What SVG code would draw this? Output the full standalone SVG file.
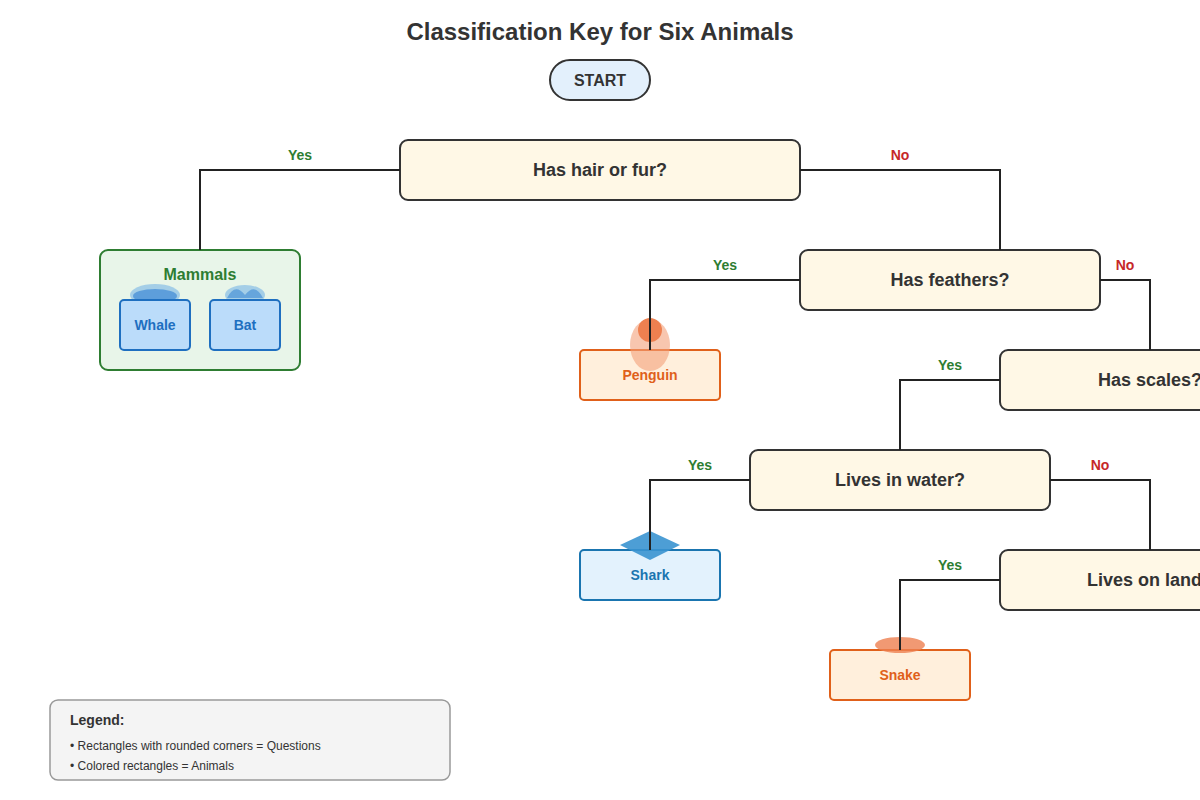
<svg xmlns="http://www.w3.org/2000/svg" width="1200" height="800" viewBox="0 0 1200 800">
<style>
text{font-family:"Liberation Sans",Arial,sans-serif;text-anchor:middle;font-weight:bold}
text.l{text-anchor:start}
text.ln{text-anchor:start;font-weight:normal}
.q rect{fill:#fff8e6;stroke:#333;stroke-width:2}
.q text{font-size:18px;fill:#333}
.c{fill:none;stroke:#222;stroke-width:2}
.y{fill:#2e7d32;font-size:14px}
.n{fill:#c62828;font-size:14px}
.o rect{fill:#ffefdc;stroke:#e0601a;stroke-width:2}
.o text{fill:#e0601a;font-size:14px}
</style>
<rect width="1200" height="800" fill="#fff"/>
<text x="600" y="40" font-size="24" fill="#333">Classification Key for Six Animals</text>
<g id="start"><rect x="550" y="60" width="100" height="40" rx="20" fill="#e3f0fc" stroke="#333" stroke-width="2"/><text x="600" y="86" font-size="16" fill="#333">START</text></g>
<g id="q1" class="q"><rect x="400" y="140" width="400" height="60" rx="8"/><text x="600" y="176">Has hair or fur?</text></g>
<g id="mammals"><rect x="100" y="250" width="200" height="120" rx="8" fill="#e8f5e9" stroke="#2e7d32" stroke-width="2"/><text x="200" y="280" font-size="16" fill="#2e7d32">Mammals</text>
<g id="whale"><ellipse cx="155" cy="295" rx="25" ry="11" fill="#5fa8e6" opacity="0.5"/><ellipse cx="155" cy="296" rx="22" ry="7" fill="#2f7fd4" opacity="0.6"/><rect x="120" y="300" width="70" height="50" rx="4" fill="#bbdcfa" stroke="#1e6fc0" stroke-width="2"/><text x="155" y="330" font-size="14" fill="#1e6fc0">Whale</text></g>
<g id="bat"><ellipse cx="245" cy="295" rx="20" ry="10" fill="#5fa8e6" opacity="0.5"/><path d="M227 298 Q235 282 245 295 Q255 282 263 298 Z" fill="#3d8ad6" opacity="0.6"/><rect x="210" y="300" width="70" height="50" rx="4" fill="#bbdcfa" stroke="#1e6fc0" stroke-width="2"/><text x="245" y="330" font-size="14" fill="#1e6fc0">Bat</text></g></g>
<g id="q2" class="q"><rect x="800" y="250" width="300" height="60" rx="8"/><text x="950" y="286">Has feathers?</text></g>
<g id="penguin" class="o"><rect x="580" y="350" width="140" height="50" rx="4"/><ellipse cx="650" cy="345" rx="20" ry="26" fill="#f4a07a" opacity="0.6"/><circle cx="650" cy="330" r="12" fill="#ee8050"/><text x="650" y="380">Penguin</text></g>
<g id="q3" class="q"><rect x="1000" y="350" width="300" height="60" rx="8"/><text x="1150" y="386">Has scales?</text></g>
<g id="q4" class="q"><rect x="750" y="450" width="300" height="60" rx="8"/><text x="900" y="486">Lives in water?</text></g>
<g id="shark"><rect x="580" y="550" width="140" height="50" rx="4" fill="#e3f2fd" stroke="#1a75b0" stroke-width="2"/><path d="M620 545 L650 531 L680 545 L650 560 Z" fill="#3a93d0" opacity="0.9"/><text x="650" y="580" font-size="14" fill="#1a75b0">Shark</text></g>
<g id="q5" class="q"><rect x="1000" y="550" width="300" height="60" rx="8"/><text x="1150" y="586">Lives on land?</text></g>
<g id="snake" class="o"><rect x="830" y="650" width="140" height="50" rx="4"/><ellipse cx="900" cy="645" rx="25" ry="8" fill="#ee8050" opacity="0.8"/><text x="900" y="680">Snake</text></g>
<g id="connectors">
<path class="c" d="M400 170H200V250M800 170H1000V250M800 280H650V350M1100 280H1150V350M1000 380H900V450M750 480H650V550M1050 480H1150V550M1000 580H900V650"/>
<text class="y" x="300" y="160">Yes</text><text class="n" x="900" y="160">No</text>
<text class="y" x="725" y="270">Yes</text><text class="n" x="1125" y="270">No</text>
<text class="y" x="950" y="370">Yes</text>
<text class="y" x="700" y="470">Yes</text><text class="n" x="1100" y="470">No</text>
<text class="y" x="950" y="570">Yes</text>
</g>
<g id="legend"><rect x="50" y="700" width="400" height="80" rx="8" fill="#f4f4f4" stroke="#999" stroke-width="1.5"/>
<text class="l" x="70" y="725" font-size="14" fill="#333">Legend:</text>
<text class="ln" x="70" y="750" font-size="12" fill="#333">• Rectangles with rounded corners = Questions</text>
<text class="ln" x="70" y="770" font-size="12" fill="#333">• Colored rectangles = Animals</text></g>
</svg>
